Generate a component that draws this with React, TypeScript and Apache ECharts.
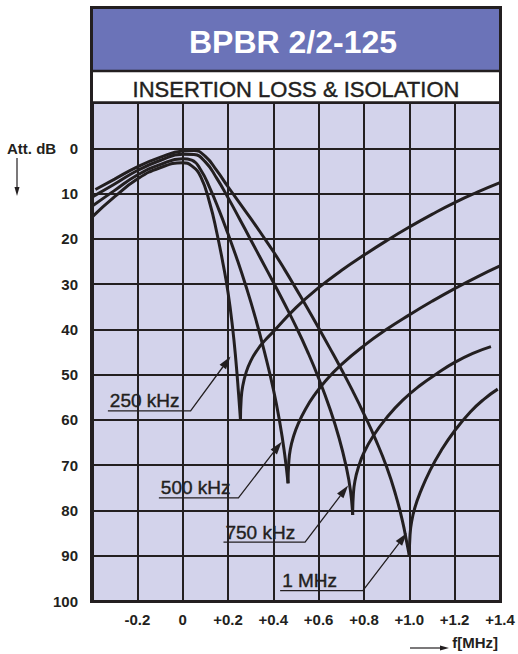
import React, { useEffect, useRef } from "react";
import * as echarts from "echarts";

// Frequency offset [MHz] vs attenuation [dB]
const pass250: number[][] = [[-0.4,15.2],[-0.3,10.7],[-0.2,6.8],[-0.1,4.3],[0,3.2],[0.04,3.9],[0.08,6.3],[0.12,12.2],[0.15,18.5],[0.18,26],[0.2,31.8],[0.22,39.5],[0.235,47],[0.247,54.5],[0.255,60]];
const iso250: number[][] = [[0.255,60],[0.258,55.5],[0.265,52.5],[0.28,49.5],[0.3,47],[0.33,44.5],[0.36,42.6],[0.4,40.5],[0.5,35.2],[0.6,30.8],[0.7,27],[0.8,23.6],[0.9,20.4],[1.0,17.4],[1.1,14.6],[1.2,12],[1.3,9.7],[1.4,7.6]];

const pass500: number[][] = [[-0.4,12.8],[-0.3,9.3],[-0.2,5.9],[-0.1,3.6],[0,2.3],[0.04,2.6],[0.08,4.8],[0.12,8.8],[0.16,13.6],[0.2,18.9],[0.24,24.5],[0.28,30.6],[0.32,37.3],[0.36,44.8],[0.4,53.2],[0.43,61],[0.45,67.6],[0.465,74]];
const iso500: number[][] = [[0.465,74],[0.468,69.5],[0.475,66.5],[0.49,63.5],[0.51,60.8],[0.54,57.8],[0.58,54.6],[0.63,51.4],[0.7,47.8],[0.8,43.6],[0.9,40],[1.0,36.8],[1.1,33.8],[1.2,31],[1.3,28.4],[1.4,26]];

const pass750: number[][] = [[-0.4,10.8],[-0.3,7.9],[-0.2,4.9],[-0.1,2.7],[0,1.3],[0.05,1.4],[0.1,3],[0.15,6.6],[0.2,10.9],[0.25,15.5],[0.3,20.2],[0.35,24.9],[0.4,29.6],[0.45,34.4],[0.5,39.4],[0.55,44.8],[0.6,50.8],[0.65,57.6],[0.69,64],[0.72,70],[0.74,75.5],[0.75,81]];
const iso750: number[][] = [[0.75,81],[0.753,76.5],[0.76,73.5],[0.775,70.5],[0.8,67.2],[0.84,63.6],[0.9,59.5],[0.97,55.7],[1.05,52.3],[1.13,49.5],[1.2,47.3],[1.28,45.3],[1.36,43.8]];

const pass1000: number[][] = [[-0.385,9.1],[-0.3,6.8],[-0.2,4.1],[-0.1,2],[0,0.6],[0.05,0.5],[0.1,1.8],[0.15,4.9],[0.2,8.5],[0.25,12],[0.3,15.5],[0.35,19.1],[0.4,22.8],[0.45,26.8],[0.5,31],[0.55,35.3],[0.6,39.7],[0.65,44.2],[0.7,48.8],[0.75,53.6],[0.8,58.7],[0.85,64.2],[0.9,70.4],[0.94,76.6],[0.97,82.4],[0.99,87.4],[1.0,90]];
const iso1000: number[][] = [[1.0,90],[1.003,85.5],[1.01,82.5],[1.025,79.3],[1.05,75.8],[1.09,71.3],[1.14,66.8],[1.2,62.4],[1.27,58.2],[1.33,55.4],[1.39,53.2]];

// Annotation labels (data coordinates): underline start/end, arrow tip
const annoTexts = ["250 kHz", "500 kHz", "750 kHz", "1 MHz"];
const annoUnderStart: number[][] = [[-0.33, 58], [-0.105, 77.2], [0.18, 87], [0.43, 97.7]];
const annoUnderEnd: number[][] = [[0.035, 58], [0.246, 77.2], [0.54, 87], [0.795, 97.7]];
const annoTip: number[][] = [[0.211, 46], [0.437, 64.8], [0.73, 74.5], [0.989, 85]];

const TITLE = "BPBR 2/2-125";
const SUBTITLE = "INSERTION LOSS & ISOLATION";
const Y_NAME = "Att. dB";
const X_NAME = "f[MHz]";

const INK = "#231f20";
const FONT = "'Liberation Sans', Arial, Helvetica, sans-serif";

const W = 518;
const H = 654;
const G_LEFT = 92;
const G_RIGHT = 500;
const G_TOP = 103;
const G_BOTTOM = 601;

function arrowHead(from: number[], tip: number[], len: number, wid: number) {
  const dx = tip[0] - from[0];
  const dy = tip[1] - from[1];
  const d = Math.hypot(dx, dy) || 1;
  const ux = dx / d, uy = dy / d;
  const nx = -uy, ny = ux;
  const bx = tip[0] - ux * len, by = tip[1] - uy * len;
  return [
    [tip[0], tip[1]],
    [bx + nx * wid / 2, by + ny * wid / 2],
    [bx - nx * wid / 2, by - ny * wid / 2],
  ];
}

export default function App() {
  const ref = useRef<HTMLDivElement>(null);
  useEffect(() => {
    if (!ref.current) return;
    const chart = echarts.init(ref.current, undefined, { renderer: "svg" });
    const curve = (name: string, data: number[][]) => ({
      name,
      type: "line",
      data,
      smooth: 0.5,
      symbol: "none",
      silent: true,
      z: 5,
      lineStyle: { color: INK, width: 3 },
    });
    chart.setOption({
      animation: false,
      backgroundColor: "#ffffff",
      grid: { left: G_LEFT, right: W - G_RIGHT, top: G_TOP, bottom: H - G_BOTTOM, show: true, backgroundColor: "#d3d3eb", borderWidth: 0 },
      xAxis: {
        type: "value",
        min: -0.4,
        max: 1.4,
        interval: 0.2,
        axisLine: { show: true, onZero: false, lineStyle: { color: INK, width: 3 } },
        axisTick: { show: false },
        splitLine: { show: true, lineStyle: { color: INK, width: 2 } },
        axisLabel: {
          showMaxLabel: true,
          margin: 11,
          color: INK,
          fontSize: 15,
          fontWeight: "bold",
          fontFamily: FONT,
          formatter: (v: number) => {
            const r = Math.round(v * 10) / 10;
            if (r < -0.35) return "";
            if (Math.abs(r) < 1e-9) return "0";
            return (r > 0 ? "+" : "") + r.toFixed(1);
          },
        },
      },
      yAxis: {
        type: "value",
        inverse: true,
        min: -10,
        max: 100,
        interval: 10,
        axisLine: { show: true, onZero: false, lineStyle: { color: INK, width: 3 } },
        axisTick: { show: false },
        splitLine: { show: true, lineStyle: { color: INK, width: 2 } },
        axisLabel: {
          margin: 14,
          color: INK,
          fontSize: 15,
          fontWeight: "bold",
          fontFamily: FONT,
          formatter: (v: number) => (v < 0 ? "" : String(Math.round(v))),
        },
      },
      series: [
        curve("250 kHz", pass250),
        curve("250 kHz iso", iso250),
        curve("500 kHz", pass500),
        curve("500 kHz iso", iso500),
        curve("750 kHz", pass750),
        curve("750 kHz iso", iso750),
        curve("1 MHz", pass1000),
        curve("1 MHz iso", iso1000),
      ],
    });

    const px = (p: number[]) => chart.convertToPixel({ gridIndex: 0 }, p) as number[];
    const graphics: any[] = [];

    graphics.push({ type: "rect", shape: { x: G_LEFT - 1, y: 8, width: G_RIGHT - G_LEFT + 2, height: 63 }, style: { fill: "#6b73b8" }, z: 1 });
    graphics.push({ type: "rect", shape: { x: G_LEFT - 1, y: 71, width: G_RIGHT - G_LEFT + 2, height: 32 }, style: { fill: "#ffffff" }, z: 1 });
    graphics.push({ type: "line", shape: { x1: G_LEFT - 1, y1: 71, x2: G_RIGHT + 1, y2: 71 }, style: { stroke: INK, lineWidth: 2.5 }, z: 10 });
    graphics.push({ type: "line", shape: { x1: G_LEFT - 1, y1: 102.5, x2: G_RIGHT + 1, y2: 102.5 }, style: { stroke: INK, lineWidth: 2.5 }, z: 10 });
    graphics.push({ type: "rect", shape: { x: G_LEFT - 0.5, y: 7.5, width: G_RIGHT - G_LEFT + 1, height: G_BOTTOM - 7 }, style: { fill: "none", stroke: INK, lineWidth: 3 }, z: 10 });
    graphics.push({ type: "text", x: (G_LEFT + G_RIGHT) / 2 - 3, y: 42, style: { text: TITLE, fill: "#ffffff", fontSize: 32, fontWeight: "bold", fontFamily: FONT, align: "center", verticalAlign: "middle" }, z: 11 });
    graphics.push({ type: "text", x: (G_LEFT + G_RIGHT) / 2, y: 89, style: { text: SUBTITLE, fill: INK, fontSize: 22, fontFamily: FONT, align: "center", verticalAlign: "middle", stroke: INK, lineWidth: 0.4 }, z: 11 });

    const zeroY = px([0, 0])[1];
    graphics.push({ type: "text", x: 7, y: zeroY, style: { text: Y_NAME, fill: INK, fontSize: 15, fontWeight: "bold", fontFamily: FONT, align: "left", verticalAlign: "middle" }, z: 11 });
    graphics.push({ type: "line", shape: { x1: 17, y1: 158, x2: 17, y2: 188 }, style: { stroke: INK, lineWidth: 1.2 }, z: 11 });
    graphics.push({ type: "polygon", shape: { points: arrowHead([17, 158], [17, 196], 9, 5) }, style: { fill: INK }, z: 11 });
    graphics.push({ type: "text", x: 498, y: 642, style: { text: X_NAME, fill: INK, fontSize: 15, fontWeight: "bold", fontFamily: FONT, align: "right", verticalAlign: "middle" }, z: 11 });
    graphics.push({ type: "line", shape: { x1: 410, y1: 648, x2: 440, y2: 648 }, style: { stroke: INK, lineWidth: 1.2 }, z: 11 });
    graphics.push({ type: "polygon", shape: { points: arrowHead([410, 648], [449, 648], 9, 5) }, style: { fill: INK }, z: 11 });

    annoTexts.forEach((t, i) => {
      const a = px(annoUnderStart[i]);
      const b = px(annoUnderEnd[i]);
      const tip = px(annoTip[i]);
      const head = arrowHead(b, tip, 13, 8);
      const back = [(head[1][0] + head[2][0]) / 2, (head[1][1] + head[2][1]) / 2];
      graphics.push({ type: "polyline", shape: { points: [a, b, back] }, style: { stroke: INK, lineWidth: 1.3, fill: "none" }, z: 12 });
      graphics.push({ type: "polygon", shape: { points: head }, style: { fill: INK }, z: 12 });
      graphics.push({ type: "text", x: a[0] + 2, y: a[1] - 10, style: { text: t, fill: INK, fontSize: 19, fontFamily: FONT, align: "left", verticalAlign: "middle", stroke: INK, lineWidth: 0.4 }, z: 12 });
    });

    chart.setOption({ graphic: graphics });
    return () => chart.dispose();
  }, []);
  return <div ref={ref} style={{ position: "absolute", left: 0, top: 0, width: W, height: H }} />;
}
